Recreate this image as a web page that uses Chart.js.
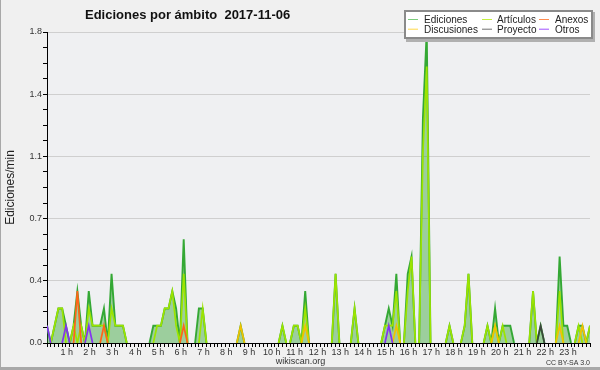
<!DOCTYPE html>
<html><head><meta charset="utf-8">
<script src="https://cdn.jsdelivr.net/npm/chart.js@4/dist/chart.umd.min.js"></script>
<style>html,body{margin:0;padding:0;background:#f0f0f0;}canvas{display:block}</style>
</head><body>
<canvas id="c" width="600" height="370"></canvas>
<script>
const chartTitle = 'Ediciones por ámbito  2017-11-06';
const yTitle = 'Ediciones/min';
const hourLabels = ['1 h','2 h','3 h','4 h','5 h','6 h','7 h','8 h','9 h','10 h','11 h','12 h',
  '13 h','14 h','15 h','16 h','17 h','18 h','19 h','20 h','21 h','22 h','23 h'];
const yTickValues = [0, 0.36, 0.72, 1.08, 1.44, 1.8];
const yTickLabels = ['0.0','0.4','0.7','1.1','1.4','1.8'];
const seriesNames = ['Ediciones','Artículos','Anexos','Discusiones','Proyecto','Otros'];

// one value per 10 minutes (edits per minute), 00:00 .. 23:50
const ediciones = [
 0.1,0,0.1,0.2,0.2,0.1,0,0.1,0.3,0.1,0,0.3,
 0.1,0.1,0.1,0.2,0,0.4,0.1,0.1,0.1,0,0,0,
 0,0,0,0,0.1,0.1,0.1,0.2,0.2,0.3,0.2,0,
 0.6,0,0,0,0.2,0.2,0,0,0,0,0,0,
 0,0,0,0.1,0,0,0,0,0,0,0,0,
 0,0,0.1,0,0,0.1,0.1,0,0.3,0,0,0,
 0,0,0,0,0.4,0,0,0,0,0.2,0,0,
 0,0,0,0,0,0.1,0.2,0.1,0.4,0,0,0.4,
 0.5,0,0,1.3,1.8,0,0,0,0,0,0.1,0,
 0,0,0.1,0.4,0,0,0,0,0.1,0,0.2,0,
 0.1,0.1,0.1,0,0,0,0,0,0.3,0,0.1,0,
 0,0,0,0.5,0.1,0.1,0,0,0.1,0.1,0,0.1];
const articulos = [
 0,0,0.1,0.2,0.2,0,0,0.1,0,0.1,0,0.2,
 0.1,0.1,0.1,0.1,0,0.2,0.1,0.1,0.1,0,0,0,
 0,0,0,0,0,0.1,0.1,0.2,0.2,0.3,0.1,0,
 0.4,0,0,0,0,0.2,0,0,0,0,0,0,
 0,0,0,0,0,0,0,0,0,0,0,0,
 0,0,0.1,0,0,0.1,0.1,0,0.2,0,0,0,
 0,0,0,0,0.4,0,0,0,0,0.2,0,0,
 0,0,0,0,0,0.1,0.1,0.1,0.3,0,0,0.3,
 0.5,0,0,1.1,1.6,0,0,0,0,0,0.1,0,
 0,0,0.1,0.4,0,0,0,0,0.1,0,0.1,0,
 0.1,0,0,0,0,0,0,0,0.3,0,0,0,
 0,0,0,0.3,0,0,0,0,0.1,0,0,0.1];
const anexos = [
 0,0,0,0,0,0,0,0,0.3,0,0,0,
 0,0,0,0.1,0,0,0,0,0,0,0,0,
 0,0,0,0,0,0,0,0,0,0,0,0,
 0.1,0,0,0,0,0,0,0,0,0,0,0,
 0,0,0,0,0,0,0,0,0,0,0,0,
 0,0,0,0,0,0,0,0,0,0,0,0,
 0,0,0,0,0,0,0,0,0,0,0,0,
 0,0,0,0,0,0,0,0,0,0,0,0,
 0,0,0,0,0,0,0,0,0,0,0,0,
 0,0,0,0,0,0,0,0,0,0,0,0,
 0,0,0,0,0,0,0,0,0,0,0,0,
 0,0,0,0,0,0,0,0,0,0,0,0];
const discusiones = [
 0,0,0,0,0,0,0,0,0,0,0,0,
 0,0,0,0,0,0,0,0,0,0,0,0,
 0,0,0,0,0,0,0,0,0,0,0,0,
 0,0,0,0,0,0,0,0,0,0,0,0,
 0,0,0,0.1,0,0,0,0,0,0,0,0,
 0,0,0,0,0,0,0,0,0.1,0,0,0,
 0,0,0,0,0,0,0,0,0,0,0,0,
 0,0,0,0,0,0,0,0,0.1,0,0,0,
 0,0,0,0,0,0,0,0,0,0,0,0,
 0,0,0,0,0,0,0,0,0,0,0.1,0,
 0,0,0,0,0,0,0,0,0,0,0,0,
 0,0,0,0.1,0,0,0,0,0,0.1,0,0];
const proyecto = [
 0,0,0,0,0,0,0,0,0,0,0,0,
 0,0,0,0,0,0,0,0,0,0,0,0,
 0,0,0,0,0,0,0,0,0,0,0,0,
 0,0,0,0,0,0,0,0,0,0,0,0,
 0,0,0,0,0,0,0,0,0,0,0,0,
 0,0,0,0,0,0,0,0,0,0,0,0,
 0,0,0,0,0,0,0,0,0,0,0,0,
 0,0,0,0,0,0,0,0,0,0,0,0,
 0,0,0,0,0,0,0,0,0,0,0,0,
 0,0,0,0,0,0,0,0,0,0,0,0,
 0,0,0,0,0,0,0,0,0,0,0.1,0,
 0,0,0,0,0,0,0,0,0,0,0,0];
const otros = [
 0.1,0,0,0,0,0.1,0,0,0,0,0,0.1,
 0,0,0,0,0,0,0,0,0,0,0,0,
 0,0,0,0,0,0,0,0,0,0,0,0,
 0,0,0,0,0,0,0,0,0,0,0,0,
 0,0,0,0,0,0,0,0,0,0,0,0,
 0,0,0,0,0,0,0,0,0,0,0,0,
 0,0,0,0,0,0,0,0,0,0,0,0,
 0,0,0,0,0,0,0.1,0,0,0,0,0,
 0,0,0,0,0,0,0,0,0,0,0,0,
 0,0,0,0,0,0,0,0,0,0,0,0,
 0,0,0,0,0,0,0,0,0,0,0,0,
 0,0,0,0,0,0,0,0,0,0,0,0];

const seriesData = [ediciones, articulos, anexos, discusiones, proyecto, otros];
const lineColors = ['#34a834','#9ce400','#ff6418','#f2c200','#3c463c','#8434f0'];
const legendColors = ['#7ccc7c','#c4f040','#ff8c50','#ffd848','#707070','#a050ff'];
const FONT = '"Liberation Sans", Arial, sans-serif';

const datasets = seriesData.map((arr, k) => ({
  label: seriesNames[k],
  data: arr.map((v, i) => ({x: i, y: v})),
  borderColor: lineColors[k],
  borderWidth: k === 0 ? 1.9 : 1.7,
  pointRadius: 0,
  tension: 0,
  fill: k === 0 ? 'origin' : false,
  backgroundColor: k === 0 ? 'rgba(40,160,40,0.42)' : 'transparent',
  order: 10 - k,
  segment: {
    borderColor: c => (c.p0.parsed.y === 0 && c.p1.parsed.y === 0) ? 'rgba(0,0,0,0)' : undefined
  }
}));

const decor = {
  id: 'decor',
  beforeDraw(chart) {
    const {ctx, chartArea: a} = chart;
    ctx.save();
    ctx.fillStyle = '#f0f0f0';
    ctx.fillRect(0, 0, chart.width, chart.height);
    ctx.fillStyle = '#eff0f2';
    ctx.fillRect(a.left, a.top, a.right - a.left, a.bottom - a.top);
    ctx.restore();
  },
  afterDraw(chart) {
    const {ctx, chartArea: a} = chart;
    ctx.save();
    // title
    ctx.fillStyle = '#111';
    ctx.font = 'bold 13px ' + FONT;
    ctx.textBaseline = 'alphabetic';
    ctx.textAlign = 'left';
    ctx.fillText(chartTitle, 85, 18.5);
    // y title
    ctx.save();
    ctx.translate(14, (a.top + a.bottom) / 2);
    ctx.rotate(-Math.PI / 2);
    ctx.textAlign = 'center';
    ctx.font = '12px ' + FONT;
    ctx.fillStyle = '#222';
    ctx.fillText(yTitle, 0, 0);
    ctx.restore();
    // legend box
    ctx.fillStyle = '#b0b0b0';
    ctx.fillRect(406, 12, 189, 30);
    ctx.fillStyle = '#ffffff';
    ctx.fillRect(404, 10, 189, 29);
    ctx.strokeStyle = '#8a8a8a';
    ctx.lineWidth = 2;
    ctx.strokeRect(405, 11, 187, 27);
    const colLine = [408, 482, 539], colText = [424, 497, 555];
    const order = [[0, 3], [1, 4], [2, 5]];
    ctx.font = '10px ' + FONT;
    ctx.fillStyle = '#222';
    ctx.lineWidth = 1;
    order.forEach((pair, c) => {
      pair.forEach((k, r) => {
        const y = 19.5 + r * 9.7;
        ctx.strokeStyle = legendColors[k];
        ctx.beginPath(); ctx.moveTo(colLine[c], y); ctx.lineTo(colLine[c] + 10, y); ctx.stroke();
        ctx.fillText(seriesNames[k], colText[c], y + 3.5);
      });
    });
    // footer
    ctx.fillStyle = '#333';
    ctx.font = '9px ' + FONT;
    ctx.textAlign = 'center';
    ctx.fillText('wikiscan.org', 300.5, 364);
    ctx.font = '7px ' + FONT;
    ctx.textAlign = 'right';
    ctx.fillText('CC BY-SA 3.0', 590, 364.5);
    // frame
    ctx.fillStyle = '#a8a8a8';
    ctx.fillRect(0, 0, 1, chart.height);
    ctx.fillRect(0, chart.height - 3, chart.width, 3);
    ctx.restore();
  }
};

new Chart(document.getElementById('c'), {
  type: 'line',
  data: { datasets },
  plugins: [decor],
  options: {
    responsive: false,
    animation: false,
    devicePixelRatio: 1,
    layout: { padding: { left: 0, right: 10, top: 32, bottom: 0 } },
    plugins: { legend: { display: false }, tooltip: { enabled: false }, title: { display: false } },
    scales: {
      x: {
        type: 'linear', min: 0, max: 143, z: 1,
        afterFit: s => { s.height = 27; },
        afterBuildTicks: s => { s.ticks = ediciones.map((v, i) => ({ value: i })); },
        grid: { display: true, drawOnChartArea: false, drawTicks: true, tickLength: 4, tickColor: '#000', tickWidth: 1 },
        border: { display: true, color: '#000', width: 1 },
        ticks: {
          autoSkip: false, maxRotation: 0, padding: 0, labelOffset: -3,
          color: '#333', font: { family: FONT, size: 9 },
          callback: v => (v % 6 === 0 && v > 0) ? hourLabels[v / 6 - 1] : ''
        }
      },
      y: {
        min: 0, max: 1.8,
        afterFit: s => { s.width = 47; },
        afterBuildTicks: s => {
          const t = [];
          yTickValues.forEach((v, j) => {
            t.push({ value: v });
            if (j < yTickValues.length - 1) {
              const step = (yTickValues[j + 1] - v) / 4;
              for (let m = 1; m < 4; m++) t.push({ value: v + m * step });
            }
          });
          s.ticks = t;
        },
        grid: {
          color: c => (c.index % 4 === 0 && c.index > 0) ? '#cfcfcf' : 'rgba(0,0,0,0)',
          tickColor: '#000', tickLength: 4, tickWidth: 1, lineWidth: 1
        },
        border: { display: true, color: '#000', width: 1 },
        ticks: {
          autoSkip: false, padding: 1, color: '#333', font: { family: FONT, size: 9 },
          callback: (v, i) => (i % 4 === 0) ? yTickLabels[i / 4] : ''
        }
      }
    }
  }
});
</script>
</body></html>
